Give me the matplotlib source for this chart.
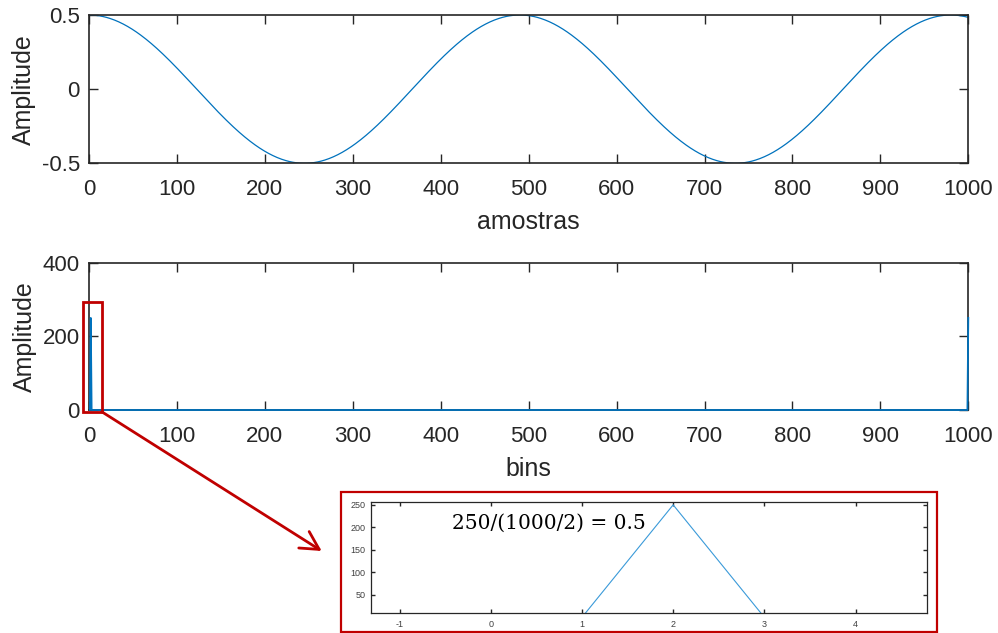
import numpy as np
import matplotlib
matplotlib.use("Agg")
import matplotlib.pyplot as plt
from matplotlib.patches import Rectangle, FancyArrowPatch

# ---- data ----
signal_amplitude = 0.5          # peak value of the time signal
signal_period = 490             # samples per cycle (peaks near 0, 490, 980)
sample_index = np.arange(0, 1000)

spectrum_bins = np.arange(1, 1001)
spectrum_peak_bins = [2, 1000]
spectrum_peak_values = [250, 250]

top_xticks = [0, 100, 200, 300, 400, 500, 600, 700, 800, 900, 1000]
top_yticks = [-0.5, 0, 0.5]
top_yticklabels = ["-0.5", "0", "0.5"]
bot_yticks = [0, 200, 400]
inset_xticks = [-1, 0, 1, 2, 3, 4]
inset_yticks = [50, 100, 150, 200, 250]
formula_text = "250/(1000/2) = 0.5"

signal = signal_amplitude * np.cos(2 * np.pi * sample_index / signal_period)
spectrum = np.zeros(len(spectrum_bins))
for b, v in zip(spectrum_peak_bins, spectrum_peak_values):
    spectrum[b - 1] = v

# ---- style ----
W, H = 998, 633
plt.rcParams['font.family'] = ['Liberation Sans', 'DejaVu Sans']
plt.rcParams['axes.unicode_minus'] = False
DARK = '#262626'
BLUE = '#0072BD'
RED = '#C00000'

fig = plt.figure(figsize=(W / 100, H / 100), dpi=100)


def frac(l, t, r, b):
    return [l / W, 1 - b / H, (r - l) / W, (b - t) / H]


def style(ax, size=16, tl=6.5, lw=1.2, xpad=11.5, ypad=6.5):
    for s in ax.spines.values():
        s.set_color(DARK)
        s.set_linewidth(lw)
    ax.tick_params(direction='in', top=True, right=True, length=tl,
                   width=1.0, color=DARK, labelcolor=DARK, labelsize=size)
    ax.tick_params(axis='x', pad=xpad)
    ax.tick_params(axis='y', pad=ypad)


# top axes
ax1 = fig.add_axes(frac(89, 15, 968.3, 163.3))
ax1.plot(sample_index, signal, color=BLUE, lw=0.9)
ax1.set_xlim(0, 1000)
ax1.set_ylim(-0.5, 0.5)
ax1.set_xticks(top_xticks)
ax1.set_yticks(top_yticks)
ax1.set_yticklabels(top_yticklabels)
style(ax1)
ax1.set_xlabel("amostras", fontsize=18, color=DARK, labelpad=7)
ax1.set_ylabel("Amplitude", fontsize=18, color=DARK, labelpad=4.5)

# bottom axes
ax2 = fig.add_axes(frac(89, 262.7, 968.3, 410))
ax2.plot(spectrum_bins, spectrum, color=BLUE, lw=1.3, zorder=3, clip_on=False)
ax2.set_xlim(0, 1000)
ax2.set_ylim(0, 400)
ax2.set_xticks(top_xticks)
ax2.set_yticks(bot_yticks)
style(ax2)
ax2.set_xlabel("bins", fontsize=18, color=DARK, labelpad=7)
ax2.set_ylabel("Amplitude", fontsize=18, color=DARK, labelpad=4.5)

# red zoom rectangle on the bottom axes
ax2.add_patch(Rectangle((-7.2, -4.6), 21.6, 296.6, fill=False, edgecolor=RED,
                        lw=2.0, clip_on=False, zorder=5))

# inset frame
fig.add_artist(Rectangle((341 / W, 1 - 631.7 / H), 595.7 / W, 140 / H,
                         transform=fig.transFigure, fill=False,
                         edgecolor=RED, lw=1.6))

# inset axes
ax3 = fig.add_axes(frac(371.3, 501.7, 926.7, 613.3))
ax3.plot(spectrum_bins, spectrum, color='#3a9ad9', lw=0.8)
ax3.set_xlim(-1.31, 4.78)
ax3.set_ylim(9, 257)
ax3.set_xticks(inset_xticks)
ax3.set_yticks(inset_yticks)
style(ax3, size=6.5, tl=3, lw=0.9, xpad=5, ypad=4)
ax3.tick_params(labelcolor='#404040')
fig.text(451.7 / W, 1 - 529 / H, formula_text, family='DejaVu Serif',
         fontsize=14.5, color='black', ha='left', va='baseline')

# arrow from the rectangle to the inset
arrow = FancyArrowPatch((101.7 / W, 1 - 411.7 / H), (321.7 / W, 1 - 551 / H),
                        transform=fig.transFigure,
                        arrowstyle='->,head_length=1.3,head_width=0.7',
                        mutation_scale=10, color=RED, lw=2.0,
                        shrinkA=0, shrinkB=0)
fig.add_artist(arrow)

fig.savefig("out.png", dpi=100)
